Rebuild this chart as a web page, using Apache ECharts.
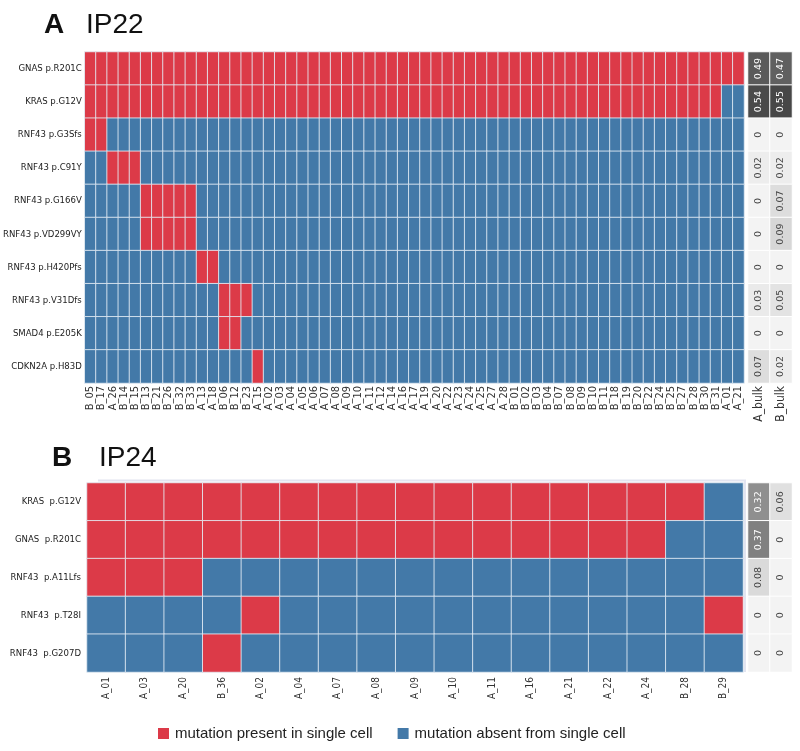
<!DOCTYPE html>
<html><head><meta charset="utf-8">
<script src="https://cdn.jsdelivr.net/npm/echarts@6/dist/echarts.min.js"></script>
<style>html,body{margin:0;padding:0;background:#fff}#c{width:800px;height:751px}</style>
</head><body><div id="c"></div><script>
// ---------- Panel A: IP22 ----------
const cellsA = ['B_05','B_17','A_26','B_14','B_15','B_13','B_21','B_26','B_32','B_33','A_13','A_18','B_06','B_12','B_23','A_15','A_02','A_03','A_04','A_05','A_06','A_07','A_08','A_09','A_10','A_11','A_12','A_14','A_16','A_17','A_19','A_20','A_22','A_23','A_24','A_25','A_27','A_28','B_01','B_02','B_03','B_04','B_07','B_08','B_09','B_10','B_11','B_18','B_19','B_20','B_22','B_24','B_25','B_27','B_28','B_30','B_31','A_01','A_21'];
const genesA = ['GNAS p.R201C','KRAS p.G12V','RNF43 p.G3Sfs','RNF43 p.C91Y','RNF43 p.G166V','RNF43 p.VD299VY','RNF43 p.H420Pfs','RNF43 p.V31Dfs','SMAD4 p.E205K','CDKN2A p.H83D'];
const gnasA   = [1,1,1,1,1,1,1,1,1,1, 1,1,1,1,1,1,1,1,1,1, 1,1,1,1,1,1,1,1,1,1, 1,1,1,1,1,1,1,1,1,1, 1,1,1,1,1,1,1,1,1,1, 1,1,1,1,1,1,1,1,1];
const krasA   = [1,1,1,1,1,1,1,1,1,1, 1,1,1,1,1,1,1,1,1,1, 1,1,1,1,1,1,1,1,1,1, 1,1,1,1,1,1,1,1,1,1, 1,1,1,1,1,1,1,1,1,1, 1,1,1,1,1,1,1,0,0];
const g3sfsA  = [1,1,0,0,0,0,0,0,0,0, 0,0,0,0,0,0,0,0,0,0, 0,0,0,0,0,0,0,0,0,0, 0,0,0,0,0,0,0,0,0,0, 0,0,0,0,0,0,0,0,0,0, 0,0,0,0,0,0,0,0,0];
const c91yA   = [0,0,1,1,1,0,0,0,0,0, 0,0,0,0,0,0,0,0,0,0, 0,0,0,0,0,0,0,0,0,0, 0,0,0,0,0,0,0,0,0,0, 0,0,0,0,0,0,0,0,0,0, 0,0,0,0,0,0,0,0,0];
const g166vA  = [0,0,0,0,0,1,1,1,1,1, 0,0,0,0,0,0,0,0,0,0, 0,0,0,0,0,0,0,0,0,0, 0,0,0,0,0,0,0,0,0,0, 0,0,0,0,0,0,0,0,0,0, 0,0,0,0,0,0,0,0,0];
const vd299A  = [0,0,0,0,0,1,1,1,1,1, 0,0,0,0,0,0,0,0,0,0, 0,0,0,0,0,0,0,0,0,0, 0,0,0,0,0,0,0,0,0,0, 0,0,0,0,0,0,0,0,0,0, 0,0,0,0,0,0,0,0,0];
const h420A   = [0,0,0,0,0,0,0,0,0,0, 1,1,0,0,0,0,0,0,0,0, 0,0,0,0,0,0,0,0,0,0, 0,0,0,0,0,0,0,0,0,0, 0,0,0,0,0,0,0,0,0,0, 0,0,0,0,0,0,0,0,0];
const v31dA   = [0,0,0,0,0,0,0,0,0,0, 0,0,1,1,1,0,0,0,0,0, 0,0,0,0,0,0,0,0,0,0, 0,0,0,0,0,0,0,0,0,0, 0,0,0,0,0,0,0,0,0,0, 0,0,0,0,0,0,0,0,0];
const smad4A  = [0,0,0,0,0,0,0,0,0,0, 0,0,1,1,0,0,0,0,0,0, 0,0,0,0,0,0,0,0,0,0, 0,0,0,0,0,0,0,0,0,0, 0,0,0,0,0,0,0,0,0,0, 0,0,0,0,0,0,0,0,0];
const cdkn2aA = [0,0,0,0,0,0,0,0,0,0, 0,0,0,0,0,1,0,0,0,0, 0,0,0,0,0,0,0,0,0,0, 0,0,0,0,0,0,0,0,0,0, 0,0,0,0,0,0,0,0,0,0, 0,0,0,0,0,0,0,0,0];
const rowsA = [gnasA, krasA, g3sfsA, c91yA, g166vA, vd299A, h420A, v31dA, smad4A, cdkn2aA];
const bulkCols = ['A_bulk','B_bulk'];
const bulkA_A = [0.49,0.54,0,0.02,0,0,0,0.03,0,0.07];
const bulkA_B = [0.47,0.55,0,0.02,0.07,0.09,0,0.05,0,0.02];

// ---------- Panel B: IP24 ----------
const cellsB = ['A_01','A_03','A_20','B_36','A_02','A_04','A_07','A_08','A_09','A_10','A_11','A_16','A_21','A_22','A_24','B_28','B_29'];
const genesB = ['KRAS  p.G12V','GNAS  p.R201C','RNF43  p.A11Lfs','RNF43  p.T28I','RNF43  p.G207D'];
const krasB  = [1,1,1,1,1,1,1,1,1,1,1,1,1,1,1,1,0];
const gnasB  = [1,1,1,1,1,1,1,1,1,1,1,1,1,1,1,0,0];
const a11B   = [1,1,1,0,0,0,0,0,0,0,0,0,0,0,0,0,0];
const t28B   = [0,0,0,0,1,0,0,0,0,0,0,0,0,0,0,0,1];
const g207B  = [0,0,0,1,0,0,0,0,0,0,0,0,0,0,0,0,0];
const rowsB = [krasB, gnasB, a11B, t28B, g207B];
const bulkB_A = [0.32,0.37,0.08,0,0];
const bulkB_B = [0.06,0,0,0,0];

const RED = '#dc3a48', BLUE = '#4379a8';
const legendLabels = ['mutation present in single cell','mutation absent from single cell'];

function matrixData(rows){
  const d=[];
  rows.forEach((r,yi)=>r.forEach((v,xi)=>d.push([xi,yi,v])));
  return d;
}
function bulkData(a,b){
  const d=[];
  [a,b].forEach((col,xi)=>col.forEach((v,yi)=>d.push({value:[xi,yi,v],label:{color: v>0.25?'#ffffff':'#444444'}})));
  return d;
}

const condensed = '"DejaVu Sans Condensed", "DejaVu Sans", sans-serif';

const chart = echarts.init(document.getElementById('c'), null, {renderer:'canvas'});
chart.setOption({
  animation:false,
  backgroundColor:'#fff',
  grid:[
    {left:83, top:52, width:661, height:331},
    {left:748, top:52, width:44, height:331},
    {left:87, top:483, width:656, height:189},
    {left:748, top:483, width:44, height:189}
  ],
  xAxis:[
    {type:'category', gridIndex:0, data:cellsA, axisLine:{show:false}, axisTick:{show:false}, splitLine:{show:false},
     axisLabel:{rotate:90, interval:0, fontSize:11, fontFamily:condensed, color:'#333', margin:3}},
    {type:'category', gridIndex:1, data:bulkCols, axisLine:{show:false}, axisTick:{show:false},
     axisLabel:{rotate:90, interval:0, fontSize:12, fontFamily:condensed, color:'#333', margin:3}},
    {type:'category', gridIndex:2, data:cellsB, axisLine:{show:false}, axisTick:{show:false},
     axisLabel:{rotate:90, interval:0, fontSize:10, fontFamily:condensed, color:'#333', margin:5}},
    {type:'category', gridIndex:3, data:bulkCols, axisLine:{show:false}, axisTick:{show:false}, axisLabel:{show:false}}
  ],
  yAxis:[
    {type:'category', gridIndex:0, data:genesA, inverse:true, axisLine:{show:false}, axisTick:{show:false},
     axisLabel:{fontSize:9.5, fontFamily:condensed, color:'#222', margin:3}},
    {type:'category', gridIndex:1, data:genesA, inverse:true, axisLine:{show:false}, axisTick:{show:false}, axisLabel:{show:false}},
    {type:'category', gridIndex:2, data:genesB, inverse:true, axisLine:{show:false}, axisTick:{show:false},
     axisLabel:{fontSize:9.5, fontFamily:condensed, color:'#222', margin:6}},
    {type:'category', gridIndex:3, data:genesB, inverse:true, axisLine:{show:false}, axisTick:{show:false}, axisLabel:{show:false}}
  ],
  visualMap:[
    {type:'piecewise', seriesIndex:[0,2], orient:'horizontal', inverse:true, left:158, top:726, padding:0,
     itemWidth:11, itemHeight:11, itemGap:25, textGap:6, itemSymbol:'rect', selectedMode:false,
     pieces:[{value:1,label:legendLabels[0],color:RED},{value:0,label:legendLabels[1],color:BLUE}],
     textStyle:{fontSize:15, fontFamily:'"Liberation Sans", Arial, sans-serif', color:'#222'}},
    {type:'continuous', seriesIndex:[1,3], show:false, min:0, max:0.58, inRange:{color:['#f3f3f3','#3e3e3e']}}
  ],
  series:[
    {type:'heatmap', xAxisIndex:0, yAxisIndex:0, data:matrixData(rowsA),
     itemStyle:{borderColor:'rgba(228,236,244,0.85)', borderWidth:1}, emphasis:{disabled:true}},
    {type:'heatmap', xAxisIndex:1, yAxisIndex:1, data:bulkData(bulkA_A,bulkA_B),
     itemStyle:{borderColor:'#ffffff', borderWidth:1}, emphasis:{disabled:true},
     label:{show:true, rotate:90, fontSize:9.5, fontFamily:'"DejaVu Sans", sans-serif', formatter:p=>String(p.value[2])}},
    {type:'heatmap', xAxisIndex:2, yAxisIndex:2, data:matrixData(rowsB),
     itemStyle:{borderColor:'rgba(228,236,244,0.85)', borderWidth:1}, emphasis:{disabled:true}},
    {type:'heatmap', xAxisIndex:3, yAxisIndex:3, data:bulkData(bulkB_A,bulkB_B),
     itemStyle:{borderColor:'#ffffff', borderWidth:1}, emphasis:{disabled:true},
     label:{show:true, rotate:90, fontSize:9.5, fontFamily:'"DejaVu Sans", sans-serif', formatter:p=>String(p.value[2])}}
  ],
  graphic:[
    {type:'polyline', silent:true, z:-1, shape:{points:[[98,480.5],[745,480.5],[745,672]]}, style:{stroke:'#e2e4f0', lineWidth:2, fill:null}},
    {type:'text', left:44, top:11, style:{text:'A', font:'bold 28px "Liberation Sans", Arial, sans-serif', fill:'#111'}},
    {type:'text', left:86, top:11, style:{text:'IP22', font:'28px "Liberation Sans", Arial, sans-serif', fill:'#111'}},
    {type:'text', left:52, top:444, style:{text:'B', font:'bold 28px "Liberation Sans", Arial, sans-serif', fill:'#111'}},
    {type:'text', left:99, top:444, style:{text:'IP24', font:'28px "Liberation Sans", Arial, sans-serif', fill:'#111'}}
  ]
});
</script></body></html>
